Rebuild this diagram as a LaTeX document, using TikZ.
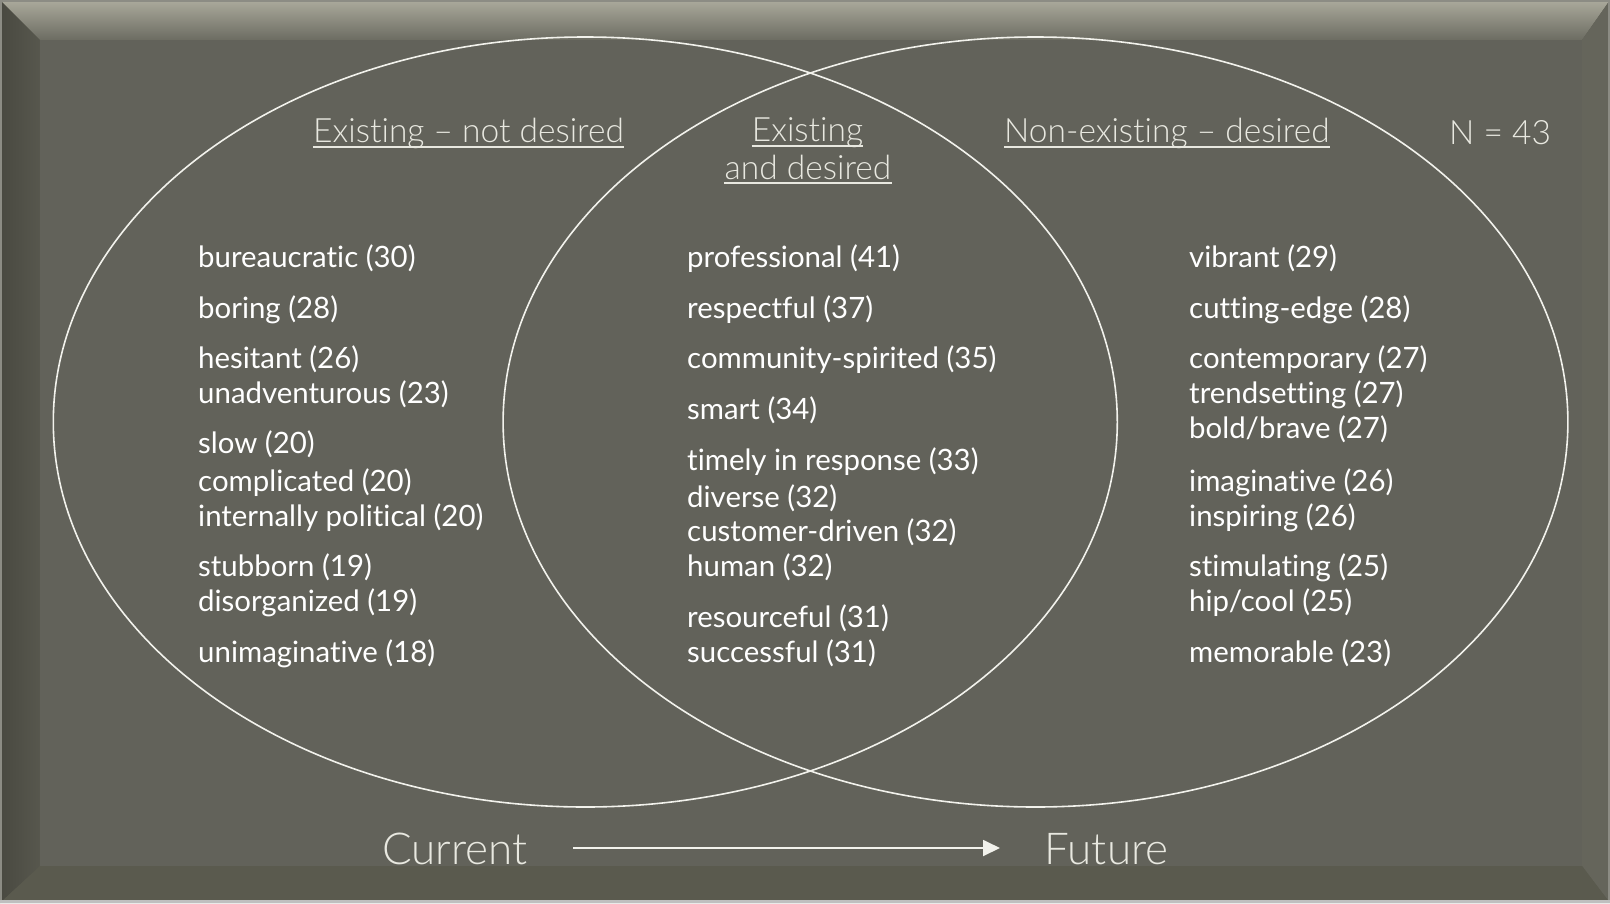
\documentclass[tikz,border=0pt]{standalone}
\usepackage{fontspec}
\setmainfont{Lato}[Ligatures={TeX,NoCommon}]
\newfontfamily\lightfont{Lato Light}[Ligatures={TeX,NoCommon}]
\usetikzlibrary{arrows.meta}

\definecolor{face}{HTML}{62625A}
\definecolor{bevtop}{HTML}{ABAA9C}
\definecolor{bevtoplow}{HTML}{6C6C62}
\definecolor{bevleft}{HTML}{56564C}
\definecolor{bevright}{HTML}{65655B}
\definecolor{bevbottom}{HTML}{5A5A4E}
\definecolor{rim}{HTML}{8C8C84}
\definecolor{linecol}{HTML}{F2F2EC}
\definecolor{headcol}{HTML}{E8E8E0}

\tikzset{
  ring/.style={draw=linecol, line width=1.6pt},
  worditem/.style={anchor=base west, inner sep=0pt, text=white,
    font=\fontsize{29.4}{34}\selectfont},
  heading/.style={anchor=base west, inner sep=0pt, text=headcol,
    font=\lightfont\fontsize{33.5}{38}\selectfont},
  headingc/.style={heading, anchor=base},
  bigword/.style={anchor=base, inner sep=0pt, text=headcol,
    font=\lightfont\fontsize{44}{50}\selectfont},
  uline/.style={draw=headcol, line width=2.4pt},
}

\begin{document}
\begin{tikzpicture}[x=1pt, y=-1pt]
\useasboundingbox (0,0) rectangle (1610,903);

% bevelled panel
\fill[bevbottom] (0,0) rectangle (1610,903);
\shade[top color=bevtop, bottom color=bevtoplow]
  (0,0) -- (1610,0) -- (1582,40) -- (40,40) -- cycle;
\shade[left color=bevleft!85!black, right color=bevleft!90!face]
  (0,0) -- (40,40) -- (40,866) -- (0,903) -- cycle;
\fill[bevright] (1610,0) -- (1582,40) -- (1582,866) -- (1610,903) -- cycle;
\fill[bevbottom] (0,903) -- (40,866) -- (1582,866) -- (1610,903) -- cycle;
\fill[face] (40,40) rectangle (1582,866);
\draw[rim, line width=2pt] (1,1) rectangle (1609,902);
\draw[black!25, line width=3pt] (0,901.5) -- (1610,901.5);

% the two overlapping sets
\draw[ring] (585.3,422) ellipse [x radius=532, y radius=385];
\draw[ring] (1035.5,422) ellipse [x radius=532.4, y radius=385];

% headings
\node[heading] (hl) at (313,142.7) {Existing – not desired};
\draw[uline] ([yshift=-4pt]hl.base west) -- ([yshift=-4pt]hl.base east);
\node[headingc] (hc1) at (807.5,141.7) {Existing};
\draw[uline] ([yshift=-4pt]hc1.base west) -- ([yshift=-4pt]hc1.base east);
\node[headingc] (hc2) at (808,179) {and desired};
\draw[uline] ([yshift=-4pt]hc2.base west) -- ([yshift=-4pt]hc2.base east);
\node[heading] (hr) at (1004,142.7) {Non-existing – desired};
\draw[uline] ([yshift=-4pt]hr.base west) -- ([yshift=-4pt]hr.base east);
\node[heading] (n) at (1449,144.3) {N = 43};

% existing, not desired
\node[worditem] (l1) at (198,267.7) {bureaucratic (30)};
\node[worditem] (l2) at (198,318) {boring (28)};
\node[worditem] (l3) at (198,368.4) {hesitant (26)};
\node[worditem] (l4) at (198,403.3) {unadventurous (23)};
\node[worditem] (l5) at (198,453.6) {slow (20)};
\node[worditem] (l6) at (198,491.6) {complicated (20)};
\node[worditem] (l7) at (198,526.5) {internally political (20)};
\node[worditem] (l8) at (198,576.8) {stubborn (19)};
\node[worditem] (l9) at (198,611.7) {disorganized (19)};
\node[worditem] (l10) at (198,662) {unimaginative (18)};

% existing and desired
\node[worditem] (c1) at (687,267.7) {professional (41)};
\node[worditem] (c2) at (687,318) {respectful (37)};
\node[worditem] (c3) at (687,368.4) {community-spirited (35)};
\node[worditem] (c4) at (687,419.7) {smart (34)};
\node[worditem] (c5) at (687,470) {timely in response (33)};
\node[worditem] (c6) at (687,507) {diverse (32)};
\node[worditem] (c7) at (687,541.9) {customer-driven (32)};
\node[worditem] (c8) at (687,576.8) {human (32)};
\node[worditem] (c9) at (687,627) {resourceful (31)};
\node[worditem] (c10) at (687,662) {successful (31)};

% non-existing, desired
\node[worditem] (r1) at (1189,267.7) {vibrant (29)};
\node[worditem] (r2) at (1189,318) {cutting-edge (28)};
\node[worditem] (r3) at (1189,368.4) {contemporary (27)};
\node[worditem] (r4) at (1189,403.3) {trendsetting (27)};
\node[worditem] (r5) at (1189,438.2) {bold/brave (27)};
\node[worditem] (r6) at (1189,491.6) {imaginative (26)};
\node[worditem] (r7) at (1189,526.5) {inspiring (26)};
\node[worditem] (r8) at (1189,576.8) {stimulating (25)};
\node[worditem] (r9) at (1189,611.7) {hip/cool (25)};
\node[worditem] (r10) at (1189,662) {memorable (23)};

% time axis
\node[bigword] (cur) at (455,864.3) {Current};
\node[bigword] (fut) at (1106.5,864.3) {Future};
\coordinate (a0) at (573,848);
\coordinate (a1) at (1000,848);
\draw[draw=linecol, line width=1.8pt, -{Triangle[length=17pt,width=16pt]}] (a0) -- (a1);
\end{tikzpicture}
\end{document}
